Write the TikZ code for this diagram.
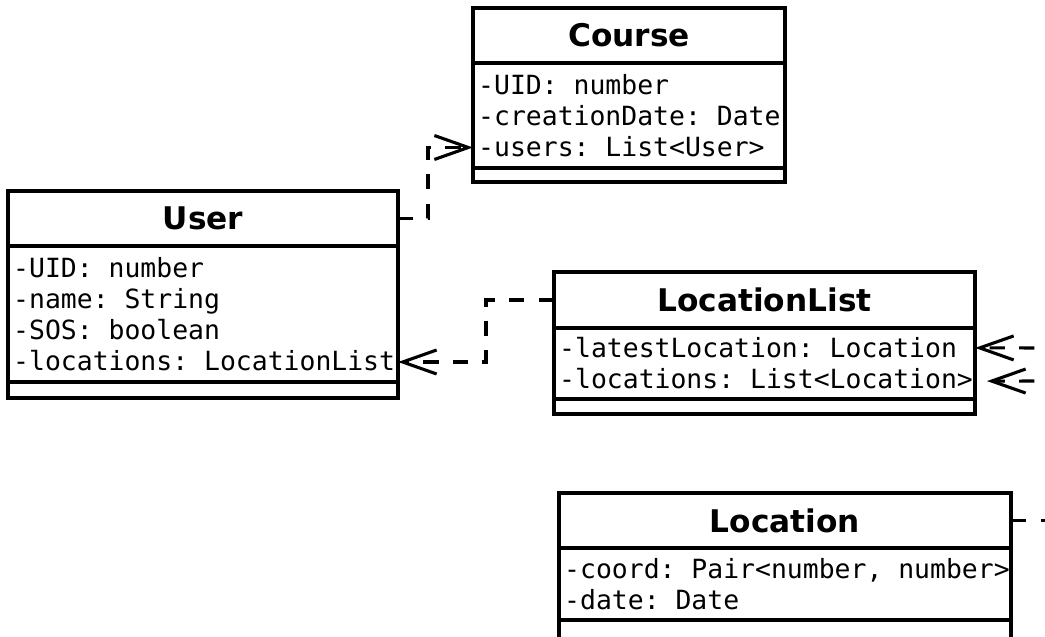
\documentclass[tikz,border=0pt]{standalone}
\usepackage{fontspec}
\usepackage{tikz}
\usetikzlibrary{positioning, arrows.meta}

\newfontfamily\umlsans{DejaVu Sans}
\newfontfamily\umlmono[HyphenChar=None]{DejaVu Sans Mono}
% one monospaced cell of blank space
\newcommand\msp{\hphantom{0}}

\begin{document}
\begin{tikzpicture}[
    classtitle/.style={
        rectangle, draw=black, fill=white, line width=2.2pt,
        outer sep=0pt, minimum height=1.375cm,
        align=center, font=\umlsans\fontsize{22.2}{26}\selectfont\bfseries
    },
    classattrs/.style={
        rectangle, draw=black, fill=white, line width=2.2pt,
        outer sep=0pt, inner xsep=0.13cm, inner ysep=0pt,
        align=left, font=\umlmono\fontsize{18.8}{22}\selectfont
    },
    classops/.style={
        rectangle, draw=black, fill=white, line width=2.2pt,
        outer sep=0pt, minimum height=0.4cm
    },
    dep/.style={
        line width=2.2pt, dash pattern=on 11pt off 10pt,
        -{Straight Barb[length=0.85cm, width=0.6cm]}
    }
]

\clip (0, 0) rectangle (26.125, 15.9);

% User
\node[classtitle, anchor=north west, minimum width=9.75cm] (userT) at (0.2, 11.125) {User};
\node[classattrs, below=0pt of userT, text width=9.49cm, minimum height=3.4cm] (userA) {
    -UID:\msp number\\
    -name:\msp String\\
    -SOS:\msp boolean\\
    -locations:\msp LocationList
};
\node[classops, below=0pt of userA, minimum width=9.75cm] (userO) {};

% Course
\node[classtitle, anchor=north west, minimum width=7.8cm] (courseT) at (11.825, 15.7) {Course};
\node[classattrs, below=0pt of courseT, text width=7.54cm, minimum height=2.625cm] (courseA) {
    -UID:\msp number\\
    -creationDate:\msp Date\\
    -users:\msp List<User>
};
\node[classops, below=0pt of courseA, minimum width=7.8cm, minimum height=0.35cm] (courseO) {};

% LocationList
\node[classtitle, anchor=north west, minimum width=10.525cm, minimum height=1.4cm] (locListT) at (13.85, 9.1) {LocationList};
\node[classattrs, below=0pt of locListT, text width=10.265cm, minimum height=1.775cm] (locListA) {
    -latestLocation:\msp Location\\
    -locations:\msp List<Location>
};
\node[classops, below=0pt of locListA, minimum width=10.525cm, minimum height=0.375cm] (locListO) {};

% Location
\node[classtitle, anchor=north west, minimum width=11.3cm] (locT) at (13.975, 3.575) {Location};
\node[classattrs, below=0pt of locT, text width=11.04cm, minimum height=1.8cm] (locA) {
    -coord:\msp Pair<number,\msp number>\\
    -date:\msp Date
};
\node[classops, below=0pt of locA, minimum width=11.3cm, minimum height=0.6cm] (locO) {};

% Loose ends leaving the page
\coordinate (latestIn) at (26.6, 7.2);
\coordinate (listIn) at (26.6, 6.375);
\coordinate (locOut) at (26.6, 2.9);

% Dependencies
\draw[dep] (userT.east) -- ++(0.75, 0) |- ([yshift=-0.8cm]courseA.west);
\draw[dep] (locListT.west) -- ++(-1.7, 0) |- ([yshift=-1.2cm]userA.east);
\draw[dep] (latestIn) -- ([yshift=0.39cm]locListA.east);
\draw[dep, shorten >=0.3cm] (listIn) -- ([yshift=-0.44cm]locListA.east);
\draw[line width=2.2pt, dash pattern=on 11pt off 10pt] (locT.east) -- (locT.east -| locOut);

\end{tikzpicture}
\end{document}
